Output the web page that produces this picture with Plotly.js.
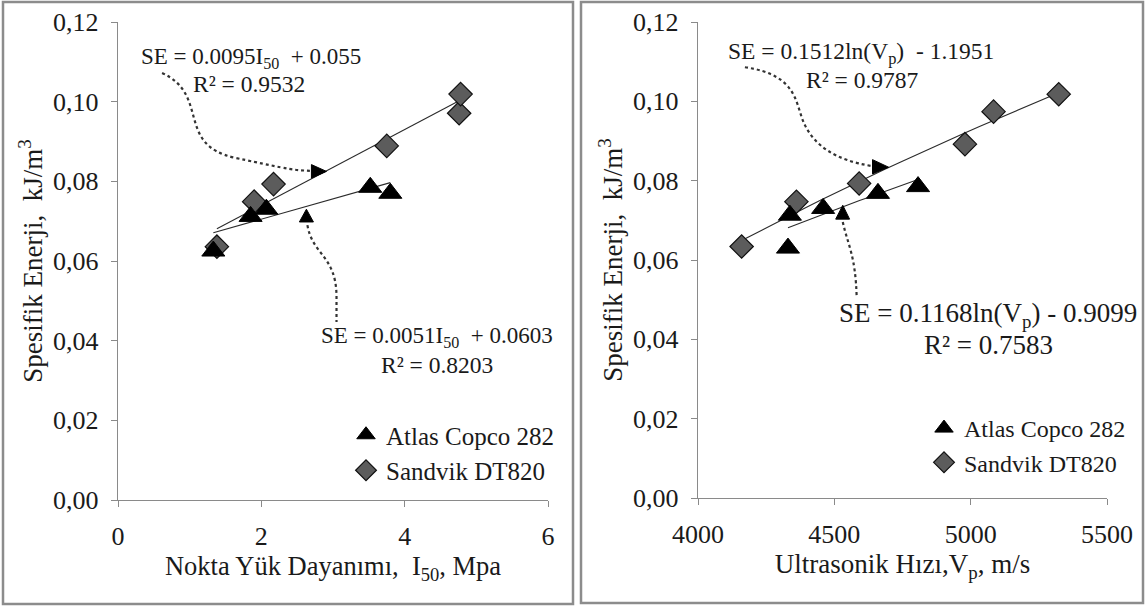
<!DOCTYPE html>
<html>
<head>
<meta charset="utf-8">
<script src="https://cdn.plot.ly/plotly-3.0.1.min.js"></script>
<style>html,body{margin:0;padding:0;background:#fff;}#chart{width:1146px;height:610px;}</style>
</head>
<body>
<div id="chart"></div>
<script>
// ---- Data ----
const seriesNames = ["Atlas Copco 282", "Sandvik DT820"];

// Left panel: Nokta Yük Dayanımı (I50, MPa) vs Spesifik Enerji
const leftAtlasX = [1.33, 1.85, 2.07, 3.52, 3.80];
const leftAtlasY = [0.0625, 0.0712, 0.0730, 0.0785, 0.0770];
const leftSandvikX = [1.38, 1.90, 2.17, 3.75, 4.76, 4.78];
const leftSandvikY = [0.0636, 0.0749, 0.0793, 0.0889, 0.0971, 0.1019];

// Right panel: Ultrasonik Hızı (Vp, m/s) vs Spesifik Enerji
const rightAtlasX = [4330, 4337, 4459, 4660, 4807];
const rightAtlasY = [0.0630, 0.0713, 0.0730, 0.0768, 0.0785];
const rightSandvikX = [4160, 4361, 4591, 4979, 5084, 5323];
const rightSandvikY = [0.0634, 0.0747, 0.0793, 0.0892, 0.0974, 0.1018];

// Trendline coefficients (from the equations printed on the chart)
const leftAtlasFit = [0.0051, 0.0603];     // SE = a*I50 + b
const leftSandvikFit = [0.0095, 0.055];
const rightAtlasFit = [0.1168, -0.9099];   // SE = a*ln(Vp) + b
const rightSandvikFit = [0.1512, -1.1951];

// Tick labels
const yTicks = [0, 0.02, 0.04, 0.06, 0.08, 0.10, 0.12];
const leftXTicks = [0, 2, 4, 6];
const rightXTicks = [4000, 4500, 5000, 5500];

// Equation texts
const eqLeftTop = ["SE = 0.0095I<sub>50</sub>  + 0.055", "R² = 0.9532"];
const eqLeftBottom = ["SE = 0.0051I<sub>50</sub>  + 0.0603", "R² = 0.8203"];
const eqRightTop = ["SE = 0.1512ln(V<sub>p</sub>)\u00a0 - 1.1951", "R² = 0.9787"];
const eqRightBottom = ["SE = 0.1168ln(V<sub>p</sub>) - 0.9099", "R² = 0.7583"];

// ---- helpers ----
function linFit(xs, c) {
  const x0 = Math.min(...xs), x1 = Math.max(...xs);
  return {x: [x0, x1], y: [c[0] * x0 + c[1], c[0] * x1 + c[1]]};
}
function logFit(xs, c) {
  const x0 = Math.min(...xs), x1 = Math.max(...xs);
  const X = [], Y = [];
  const n = 20;
  for (let i = 0; i <= n; i++) {
    const x = x0 + (x1 - x0) * i / n;
    X.push(x); Y.push(c[0] * Math.log(x) + c[1]);
  }
  return {x: X, y: Y};
}

const FONT = "Liberation Serif";
const TXT = "#1a1a1a";
const triMarker = {symbol: "triangle-up", size: 20, color: "#000000", line: {color: "#000000", width: 1}};
const diaMarker = {symbol: "diamond", size: 18, color: "#5c5c5c", line: {color: "#111111", width: 1.2}};
const fitLine = {color: "#2b2b2b", width: 1.1};

const lA = linFit(leftAtlasX, leftAtlasFit);
const lS = linFit(leftSandvikX, leftSandvikFit);
const rA = logFit(rightAtlasX, rightAtlasFit);
const rS = logFit(rightSandvikX, rightSandvikFit);

const traces = [
  {x: lS.x, y: lS.y, mode: "lines", line: fitLine, showlegend: false, hoverinfo: "skip", xaxis: "x", yaxis: "y"},
  {x: lA.x, y: lA.y, mode: "lines", line: fitLine, showlegend: false, hoverinfo: "skip", xaxis: "x", yaxis: "y"},
  {x: leftSandvikX, y: leftSandvikY, mode: "markers", name: seriesNames[1], marker: diaMarker, xaxis: "x", yaxis: "y", legend: "legend", legendrank: 2},
  {x: leftAtlasX, y: leftAtlasY, mode: "markers", name: seriesNames[0], marker: triMarker, xaxis: "x", yaxis: "y", legend: "legend", legendrank: 1},
  {x: rS.x, y: rS.y, mode: "lines", line: fitLine, showlegend: false, hoverinfo: "skip", xaxis: "x2", yaxis: "y2"},
  {x: rA.x, y: rA.y, mode: "lines", line: fitLine, showlegend: false, hoverinfo: "skip", xaxis: "x2", yaxis: "y2"},
  {x: rightSandvikX, y: rightSandvikY, mode: "markers", name: seriesNames[1], marker: diaMarker, xaxis: "x2", yaxis: "y2", legend: "legend2", legendrank: 2},
  {x: rightAtlasX, y: rightAtlasY, mode: "markers", name: seriesNames[0], marker: triMarker, xaxis: "x2", yaxis: "y2", legend: "legend2", legendrank: 1}
];

const axisCommon = {
  showline: true, linecolor: "#8a8a8a", linewidth: 1.2,
  showgrid: false, zeroline: false,
  ticks: "outside", ticklen: 6, tickcolor: "#8a8a8a",
  tickfont: {family: FONT, size: 26, color: TXT},
  ticklabelstandoff: 7
};

function yAxis(anchor, domain) {
  return Object.assign({}, axisCommon, {
    anchor: anchor, domain: domain, range: [0, 0.12],
    tickvals: yTicks, tickformat: ".2f",
    title: {text: "Spesifik Enerji,  kJ/m<sup>3</sup>", font: {family: FONT, size: 27, color: TXT}, standoff: 2}
  });
}

function ann(text, px, py, size) {
  return {text: text, xref: "paper", yref: "paper", x: px / 1146, y: (610 - py) / 610,
    xanchor: "center", yanchor: "middle", showarrow: false, font: {family: FONT, size: size, color: TXT}};
}

const dot = {color: "#333333", width: 2.2, dash: "dot"};
const shapes = [
  // panel frames
  {type: "rect", xref: "paper", yref: "paper", x0: 3 / 1146, x1: 573 / 1146, y0: (610 - 604) / 610, y1: (610 - 2) / 610, line: {color: "#8c8c8c", width: 2.5}},
  {type: "rect", xref: "paper", yref: "paper", x0: 581 / 1146, x1: 1143 / 1146, y0: (610 - 603) / 610, y1: (610 - 2) / 610, line: {color: "#8c8c8c", width: 2.5}},
  // left upper connector
  {type: "path", xref: "x", yref: "y", path: "M 0.615,0.1072 C 1.287,0.1017 0.797,0.0891 1.636,0.0859 S 2.406,0.0829 2.713,0.0826", line: dot},
  {type: "path", xref: "x", yref: "y", path: "M 2.909,0.0825 L 2.699,0.0842 L 2.699,0.0808 Z", fillcolor: "#000", line: {color: "#000", width: 1}},
  // left lower connector
  {type: "path", xref: "x", yref: "y", path: "M 2.643,0.0690 C 2.713,0.0615 3.035,0.0615 3.049,0.0515 L 3.049,0.0447", line: dot},
  {type: "path", xref: "x", yref: "y", path: "M 2.629,0.0730 L 2.531,0.0698 L 2.727,0.0698 Z", fillcolor: "#000", line: {color: "#000", width: 1}},
  // right upper connector
  {type: "path", xref: "x2", yref: "y2", path: "M 4172,0.1086 C 4373,0.1066 4355,0.0991 4392,0.0940 S 4501,0.0852 4637,0.0837", line: dot},
  {type: "path", xref: "x2", yref: "y2", path: "M 4699,0.0834 L 4640,0.0853 L 4640,0.0817 Z", fillcolor: "#000", line: {color: "#000", width: 1}},
  // right lower connector
  {type: "path", xref: "x2", yref: "y2", path: "M 4531,0.0696 C 4549,0.0638 4578,0.0613 4582,0.0504", line: dot},
  {type: "path", xref: "x2", yref: "y2", path: "M 4531,0.0738 L 4505,0.0703 L 4556,0.0703 Z", fillcolor: "#000", line: {color: "#000", width: 1}}
];

const layout = {
  width: 1146, height: 610,
  margin: {l: 0, r: 0, t: 0, b: 0},
  paper_bgcolor: "#ffffff", plot_bgcolor: "#ffffff",
  separators: ",.",
  font: {family: FONT, color: TXT},
  xaxis: Object.assign({}, axisCommon, {
    anchor: "y", domain: [118 / 1146, 548 / 1146], range: [0, 6], tickvals: leftXTicks,
    title: {text: "Nokta Yük Dayanımı,  I<sub>50</sub>, Mpa", font: {family: FONT, size: 26.5, color: TXT}, standoff: 0}
  }),
  yaxis: yAxis("x", [(610 - 500) / 610, (610 - 22) / 610]),
  xaxis2: Object.assign({}, axisCommon, {
    anchor: "y2", domain: [698 / 1146, 1107 / 1146], range: [4000, 5500], tickvals: rightXTicks, tickformat: "d",
    title: {text: "Ultrasonik Hızı,V<sub>p</sub>, m/s\u00a0\u00a0\u00a0\u00a0\u00a0\u00a0", font: {family: FONT, size: 27, color: TXT}, standoff: 0}
  }),
  yaxis2: yAxis("x2", [(610 - 498) / 610, (610 - 22) / 610]),
  legend: {x: 346 / 1146, y: (610 - 412) / 610, xanchor: "left", yanchor: "top", bgcolor: "rgba(0,0,0,0)",
    font: {family: FONT, size: 25, color: TXT}, tracegroupgap: 0, itemwidth: 30, traceorder: "normal"},
  legend2: {x: 924 / 1146, y: (610 - 406) / 610, xanchor: "left", yanchor: "top", bgcolor: "rgba(0,0,0,0)",
    font: {family: FONT, size: 24, color: TXT}, tracegroupgap: 0, itemwidth: 30, traceorder: "normal"},
  annotations: [
    ann(eqLeftTop[0], 251, 58, 23), ann(eqLeftTop[1], 249, 84, 23.5),
    ann(eqLeftBottom[0], 437, 337, 23), ann(eqLeftBottom[1], 437, 365, 23.5),
    ann(eqRightTop[0], 861, 53, 23.5), ann(eqRightTop[1], 862, 80, 23.5),
    ann(eqRightBottom[0], 988, 315, 27), ann(eqRightBottom[1], 988, 345, 27)
  ],
  shapes: shapes
};

Plotly.newPlot("chart", traces, layout, {displayModeBar: false, staticPlot: true});
</script>
</body>
</html>
